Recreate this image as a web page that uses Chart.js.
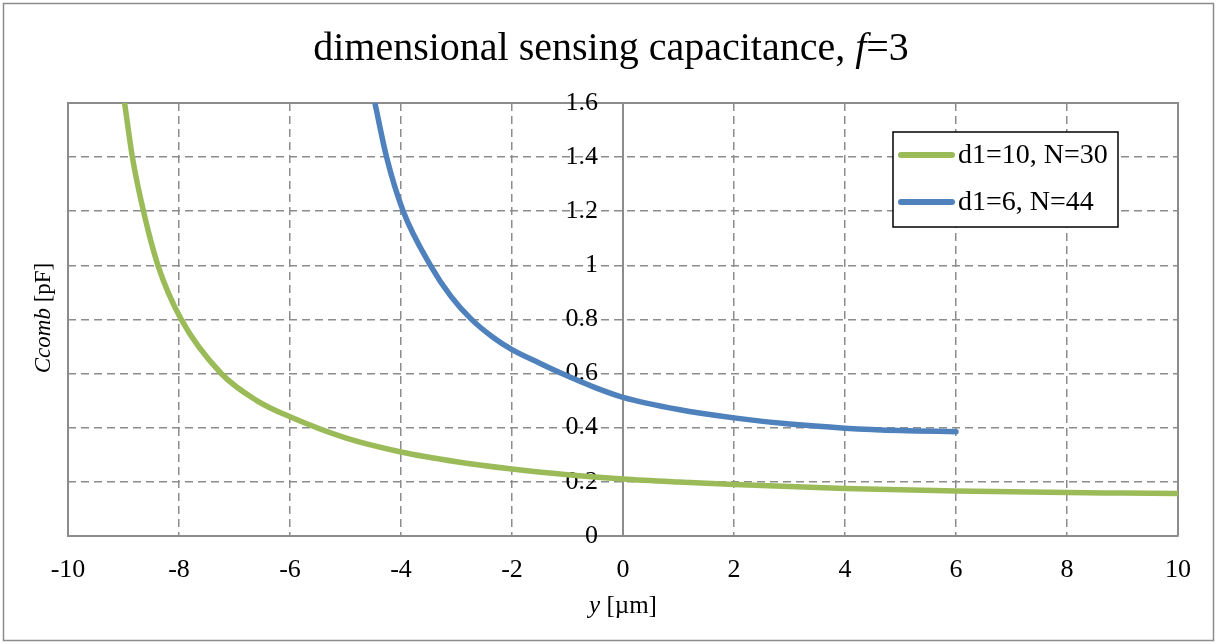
<!DOCTYPE html>
<html>
<head>
<meta charset="utf-8">
<script src="https://cdn.jsdelivr.net/npm/chart.js@4.4.1/dist/chart.umd.min.js"></script>
<style>
    html, body { margin: 0; padding: 0; background: #fff; }
    #wrap { width: 1217px; height: 644px; }
</style>
</head>
<body>
<div id="wrap"><canvas id="capChart" width="1217" height="644"></canvas></div>
<script>
// Datos
const seriesLabels = ['d1=10, N=30', 'd1=6, N=44'];
const seriesColors = ['#9BBB59', '#4F81BD'];

// Serie d1=10, N=30 (posición y en µm, capacidad en pF)
const yD10 = [-8.98, -8.84, -8.64, -8.38, -7.96, -7.24, -6.6, -6, -5, -4, -3, -2, -1, 0, 1, 2, 3, 4, 5, 6, 7, 8, 9, 10];
const cD10 = [1.6, 1.4, 1.2, 1.0, 0.8, 0.6, 0.5, 0.44, 0.362, 0.31, 0.274, 0.247, 0.226, 0.21, 0.199, 0.19, 0.182, 0.175, 0.17, 0.166, 0.163, 0.16, 0.158, 0.156];

// Serie d1=6, N=44
const yD6 = [-4.47, -4.26, -3.96, -3.47, -3.1, -2.73, -2.35, -2, -1.5, -1.08, -0.5, 0, 1, 2, 3, 4, 5, 6];
const cD6 = [1.6, 1.4, 1.2, 1.0, 0.885, 0.8, 0.735, 0.688, 0.638, 0.598, 0.548, 0.512, 0.467, 0.436, 0.413, 0.398, 0.389, 0.385];

// Etiquetas de los ejes
const xTickValues = [-10, -8, -6, -4, -2, 0, 2, 4, 6, 8, 10];
const xTickLabels = ['-10', '-8', '-6', '-4', '-2', '0', '2', '4', '6', '8', '10'];
const yTickLabels = ['0', '0.2', '0.4', '0.6', '0.8', '1', '1.2', '1.4', '1.6'];

const serif = '"Liberation Serif", "Times New Roman", serif';
const gridGray = '#8c8c8c';

// Dibuja texto centrado con partes en cursiva
function drawRuns(c, runs, x, y) {
    let total = 0;
    runs.forEach(r => {
        c.font = r.font;
        total += c.measureText(r.text).width;
    });
    let cx = x - total / 2;
    c.textAlign = 'left';
    runs.forEach(r => {
        c.font = r.font;
        c.fillText(r.text, cx, y);
        cx += c.measureText(r.text).width;
    });
}

// Fondo, marco exterior, marco del área y títulos
const framePlugin = {
    id: 'frame',
    beforeDraw(chart) {
        const c = chart.ctx;
        c.save();
        c.fillStyle = '#fff';
        c.fillRect(0, 0, chart.width, chart.height);
        c.strokeStyle = gridGray;
        c.lineWidth = 1.5;
        c.strokeRect(3.5, 3.5, chart.width - 7, chart.height - 7);
        c.restore();
    },
    beforeDatasetsDraw(chart) {
        const { left, top, right, bottom } = chart.chartArea;
        const c = chart.ctx;
        c.save();
        c.strokeStyle = gridGray;
        c.lineWidth = 2;
        c.beginPath();
        c.moveTo(left, bottom);
        c.lineTo(left, top);
        c.lineTo(right, top);
        c.lineTo(right, bottom);
        c.stroke();

        // Etiquetas del eje vertical, a la izquierda de y=0
        const xs = chart.scales.x;
        const ys = chart.scales.y;
        const axisX = xs.getPixelForValue(0);
        c.fillStyle = '#000';
        c.font = '26px ' + serif;
        c.textAlign = 'right';
        c.textBaseline = 'middle';
        ys.ticks.forEach((t, i) => {
            c.fillText(yTickLabels[i], axisX - 25, ys.getPixelForValue(t.value));
        });
        c.restore();
    },
    afterDraw(chart) {
        const c = chart.ctx;
        c.save();
        c.fillStyle = '#000';
        c.textBaseline = 'alphabetic';
        drawRuns(c, [
            { text: 'dimensional sensing capacitance, ', font: '40px ' + serif },
            { text: 'f', font: 'italic 40px ' + serif },
            { text: '=3', font: '40px ' + serif }
        ], 611, 60);

        drawRuns(c, [
            { text: 'y', font: 'italic 25px ' + serif },
            { text: ' [µm]', font: '25px ' + serif }
        ], 623, 613);

        c.translate(44, 318);
        c.rotate(-Math.PI / 2);
        c.textBaseline = 'middle';
        drawRuns(c, [
            { text: 'Ccomb', font: 'italic 23px ' + serif },
            { text: ' [pF]', font: '23px ' + serif }
        ], 0, 0);
        c.restore();
    }
};

// Leyenda con recuadro
const legendPlugin = {
    id: 'boxLegend',
    afterDatasetsDraw(chart) {
        const c = chart.ctx;
        c.save();
        c.fillStyle = '#fff';
        c.fillRect(893, 132, 225, 95);
        c.strokeStyle = '#000';
        c.lineWidth = 1.5;
        c.strokeRect(893, 132, 225, 95);
        chart.data.datasets.forEach((ds, i) => {
            const y = 155 + i * 47;
            c.strokeStyle = ds.borderColor;
            c.lineWidth = 6;
            c.lineCap = 'round';
            c.beginPath();
            c.moveTo(901, y);
            c.lineTo(952, y);
            c.stroke();
            c.fillStyle = '#000';
            c.font = '28px ' + serif;
            c.textBaseline = 'middle';
            c.textAlign = 'left';
            c.fillText(ds.label, 958, y + 1);
        });
        c.restore();
    }
};

function makeSeries(i, xs, ys) {
    return {
        label: seriesLabels[i],
        data: xs.map((x, k) => ({ x: x, y: ys[k] })),
        borderColor: seriesColors[i],
        backgroundColor: seriesColors[i],
        borderWidth: 5.5,
        pointRadius: 0,
        borderCapStyle: 'round',
        cubicInterpolationMode: 'monotone',
        fill: false
    };
}

const ctx = document.getElementById('capChart').getContext('2d');

new Chart(ctx, {
    type: 'line',
    data: {
        datasets: [
            makeSeries(0, yD10, cD10),
            makeSeries(1, yD6, cD6)
        ]
    },
    options: {
        responsive: false,
        animation: false,
        layout: {
            padding: { left: 68, right: 39, top: 103, bottom: 39 }
        },
        plugins: {
            legend: { display: false },
            title: { display: false },
            tooltip: { enabled: false }
        },
        scales: {
            x: {
                type: 'linear',
                min: -10,
                max: 10,
                ticks: {
                    stepSize: 2,
                    autoSkip: false,
                    maxRotation: 0,
                    padding: 19,
                    color: '#000',
                    font: { family: serif, size: 26 },
                    callback: value => xTickLabels[xTickValues.indexOf(value)]
                },
                grid: { color: gridGray, lineWidth: 1.5, drawTicks: false },
                border: { display: true, color: gridGray, width: 2, dash: [8, 5] }
            },
            y: {
                type: 'linear',
                position: { x: 0 },
                min: 0,
                max: 1.6,
                ticks: {
                    stepSize: 0.2,
                    autoSkip: false,
                    display: false
                },
                grid: { color: gridGray, lineWidth: 1.5, drawTicks: false },
                border: { display: true, color: gridGray, width: 2, dash: [8, 5] }
            }
        }
    },
    plugins: [framePlugin, legendPlugin]
});
</script>
</body>
</html>
